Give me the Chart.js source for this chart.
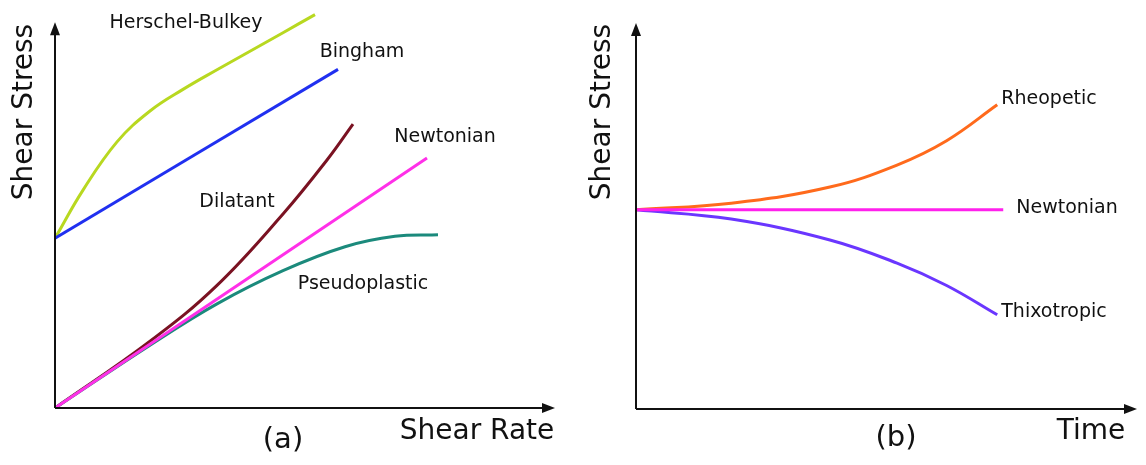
<!DOCTYPE html>
<html>
<head>
<meta charset="utf-8">
<script src="https://cdn.jsdelivr.net/npm/chart.js@4/dist/chart.umd.min.js"></script>
<style>
  html, body { margin: 0; padding: 0; background: #fff; }
  #wrap { position: relative; width: 1146px; height: 465px; }
  .panel { position: absolute; top: 0; height: 465px; }
  #panel-a { left: 0; width: 573px; }
  #panel-b { left: 580px; width: 566px; }
</style>
</head>
<body>
<div id="wrap">
  <div class="panel" id="panel-a"><canvas id="chart-a"></canvas></div>
  <div class="panel" id="panel-b"><canvas id="chart-b"></canvas></div>
</div>
<script>
// panel (a): shear stress vs shear rate
const hbX = [0, 5.6, 12.4, 19, 25.6, 32.4, 39, 45.6, 52];
const hbY = [44, 56.5, 69, 77, 82.6, 87.7, 92.5, 97.3, 102];
const binghamX = [0, 56.6];
const binghamY = [44, 87.8];
const newtonX = [0, 74.4];
const newtonY = [0, 64.8];
const dilatantX = [0, 19, 32.4, 45.6, 54.4, 59.6];
const dilatantY = [0, 17.3, 31.8, 50.3, 64.3, 73.6];
const pseudoX = [0, 19, 32.4, 45.6, 58, 68, 76.6];
const pseudoY = [0, 16.3, 27, 35.6, 41.8, 44.5, 44.9];

// panel (b): shear stress vs time
const timeNewtonX = [0, 73.3];
const timeNewtonY = [51.6, 51.6];
const rheoX = [0, 19, 38.7, 52.1, 62, 72.1];
const rheoY = [51.6, 53.3, 57.5, 63.2, 69.5, 78.8];
const thixoX = [0, 19, 38.7, 52.1, 62, 72.1];
const thixoY = [51.6, 49.2, 43.8, 37.8, 32, 24.4];

const FONT = "'DejaVu Sans', Verdana, sans-serif";
const TEXT_COLOR = "#111";

function toPoints(xs, ys) {
  return xs.map((x, i) => ({ x, y: ys[i] }));
}

function curve(label, xs, ys, color) {
  return {
    label,
    data: toPoints(xs, ys),
    borderColor: color,
    borderWidth: 3,
    pointRadius: 0,
    tension: 0.4,
    fill: false,
  };
}

// axes with arrow heads plus free text labels
const sketchPlugin = {
  id: "sketch",
  afterDraw(chart, args, opts) {
    const { ctx, scales } = chart;
    const x0 = scales.x.getPixelForValue(0);
    const y0 = scales.y.getPixelForValue(0);
    const xEnd = scales.x.getPixelForValue(100);
    const yEnd = scales.y.getPixelForValue(100);

    ctx.save();
    ctx.strokeStyle = "#111";
    ctx.fillStyle = "#111";
    ctx.lineWidth = 2;
    ctx.beginPath();
    ctx.moveTo(x0, y0);
    ctx.lineTo(xEnd - 6, y0);
    ctx.moveTo(x0, y0);
    ctx.lineTo(x0, yEnd + 6);
    ctx.stroke();

    ctx.beginPath();
    ctx.moveTo(xEnd, y0);
    ctx.lineTo(xEnd - 13, y0 - 5);
    ctx.lineTo(xEnd - 13, y0 + 5);
    ctx.closePath();
    ctx.fill();
    ctx.beginPath();
    ctx.moveTo(x0, yEnd);
    ctx.lineTo(x0 - 5, yEnd + 13);
    ctx.lineTo(x0 + 5, yEnd + 13);
    ctx.closePath();
    ctx.fill();

    ctx.fillStyle = TEXT_COLOR;
    ctx.textAlign = "center";
    ctx.textBaseline = "middle";
    (opts.labels || []).forEach((l) => {
      ctx.save();
      ctx.font = `${l.size}px ${FONT}`;
      ctx.translate(l.x, l.y);
      if (l.rotate) ctx.rotate(l.rotate);
      ctx.fillText(l.text, 0, 0);
      ctx.restore();
    });
    ctx.restore();
  },
};

function baseOptions(padding, yMax, labels) {
  return {
    responsive: true,
    maintainAspectRatio: false,
    animation: false,
    layout: { padding },
    plugins: {
      legend: { display: false },
      tooltip: { enabled: false },
      sketch: { labels },
    },
    scales: {
      x: { type: "linear", min: 0, max: 100, display: false },
      y: { type: "linear", min: 0, max: yMax, display: false },
    },
  };
}

// first dataset is painted on top
new Chart(document.getElementById("chart-a"), {
  type: "line",
  data: {
    datasets: [
      curve("Newtonian", newtonX, newtonY, "#ff30e8"),
      curve("Pseudoplastic", pseudoX, pseudoY, "#1b8a7c"),
      curve("Dilatant", dilatantX, dilatantY, "#7a1222"),
      curve("Bingham", binghamX, binghamY, "#2030f0"),
      curve("Herschel-Bulkey", hbX, hbY, "#b8d820"),
    ],
  },
  options: baseOptions({ left: 55, right: 18, top: 3, bottom: 57 }, 105, [
    { text: "Herschel-Bulkey", x: 186, y: 23, size: 19 },
    { text: "Bingham", x: 362, y: 52, size: 19 },
    { text: "Newtonian", x: 445, y: 137, size: 19 },
    { text: "Dilatant", x: 237, y: 202, size: 19 },
    { text: "Pseudoplastic", x: 363, y: 284, size: 19 },
    { text: "Shear Stress", x: 25, y: 112, size: 28, rotate: -Math.PI / 2 },
    { text: "Shear Rate", x: 477, y: 432, size: 28 },
    { text: "(a)", x: 283, y: 440, size: 29 },
  ]),
  plugins: [sketchPlugin],
});

new Chart(document.getElementById("chart-b"), {
  type: "line",
  data: {
    datasets: [
      curve("Newtonian", timeNewtonX, timeNewtonY, "#ff20ec"),
      curve("Rheopetic", rheoX, rheoY, "#ff6a1c"),
      curve("Thixotropic", thixoX, thixoY, "#6a36ff"),
    ],
  },
  options: baseOptions({ left: 56, right: 9, top: 23, bottom: 56 }, 100, [
    { text: "Rheopetic", x: 469, y: 99, size: 19 },
    { text: "Newtonian", x: 487, y: 208, size: 19 },
    { text: "Thixotropic", x: 474, y: 312, size: 19 },
    { text: "Shear Stress", x: 23, y: 112, size: 28, rotate: -Math.PI / 2 },
    { text: "Time", x: 511, y: 432, size: 28 },
    { text: "(b)", x: 316, y: 438, size: 29 },
  ]),
  plugins: [sketchPlugin],
});
</script>
</body>
</html>
